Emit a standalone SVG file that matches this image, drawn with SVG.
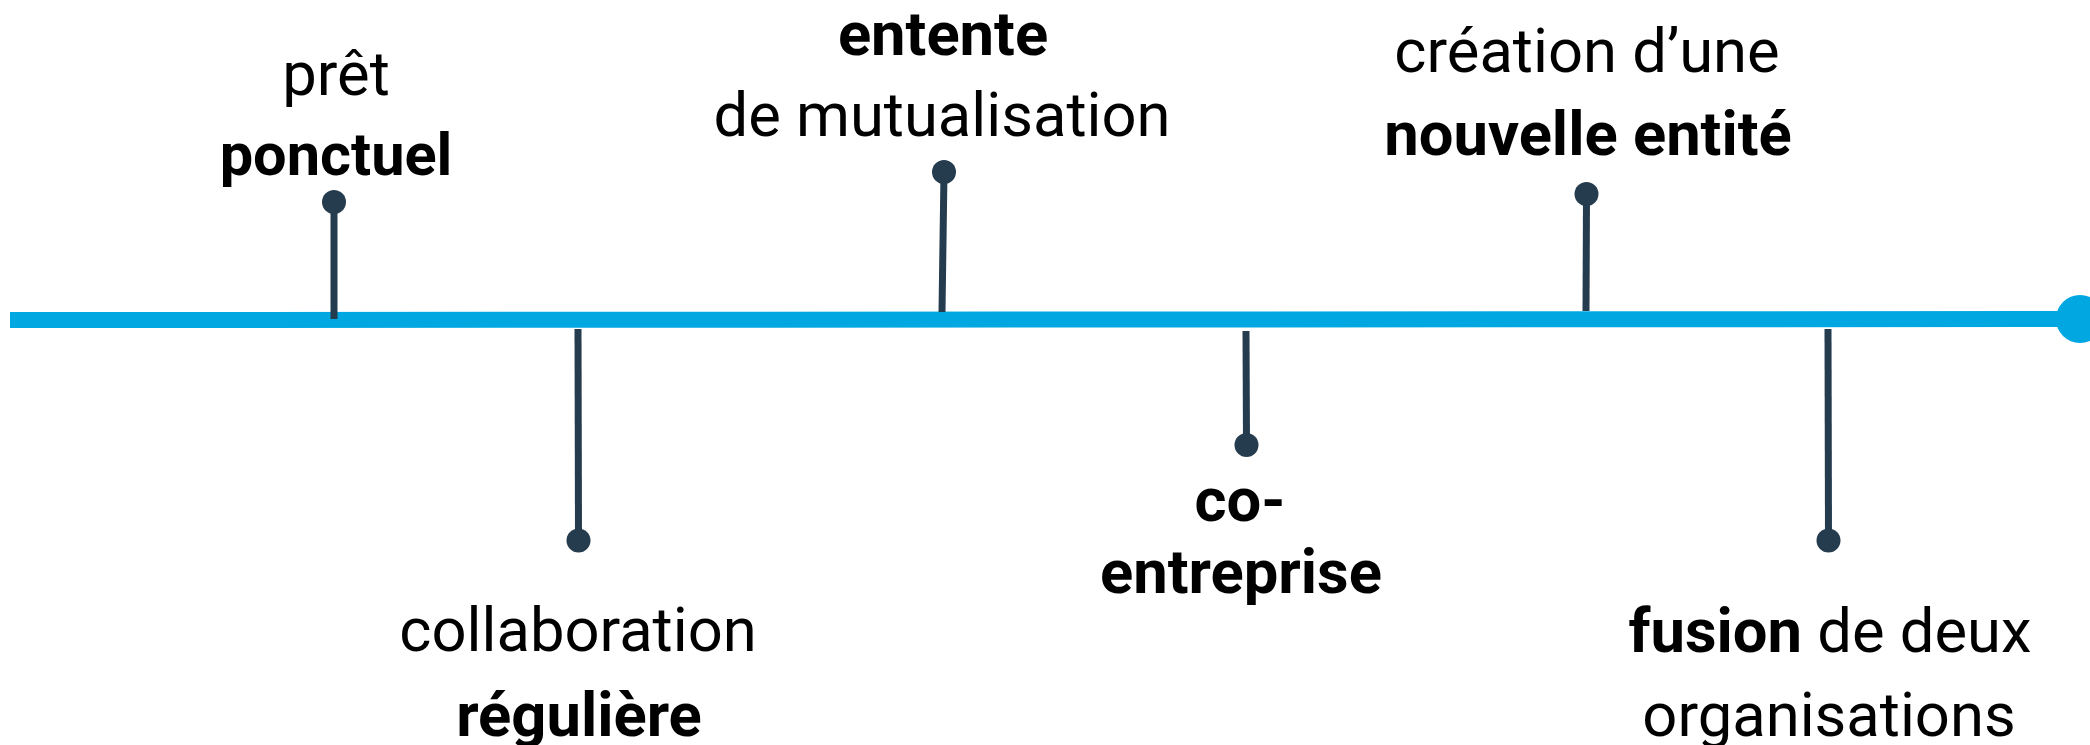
<svg xmlns="http://www.w3.org/2000/svg" width="2090" height="745" viewBox="0 0 2090 745">
<style>
.t{font-family:Roboto,"Liberation Sans",sans-serif;font-size:61.5px;fill:#000;text-anchor:middle}
.b{font-weight:bold}
.s{font-size:59.5px}
.stem{stroke:#253c4e;stroke-width:7;fill:none}
.dot{fill:#253c4e}
.axis{stroke:#00a7e1;stroke-width:16;fill:none}
</style>
<rect width="2090" height="745" fill="#fff"/>
<g id="axis">
<line class="axis" x1="10" y1="320" x2="2080" y2="319"/>
<circle cx="2080" cy="319" r="24" fill="#00a7e1"/>
</g>
<g id="connectors">
<line class="stem" x1="334" y1="319" x2="334" y2="202"/>
<line class="stem" x1="578" y1="329" x2="578.5" y2="540"/>
<line class="stem" x1="942" y1="312" x2="944" y2="172"/>
<line class="stem" x1="1246" y1="331" x2="1246.5" y2="445"/>
<line class="stem" x1="1586" y1="311" x2="1586.5" y2="194"/>
<line class="stem" x1="1828" y1="329" x2="1828.5" y2="540"/>
</g>
<g id="n1">
<circle class="dot" cx="334" cy="202" r="12"/>
<text class="t" x="336" y="95">prêt</text>
<text class="t b s" x="336" y="175">ponctuel</text>
</g>
<g id="n2">
<circle class="dot" cx="578.5" cy="540.5" r="12"/>
<text class="t" x="578" y="651">collaboration</text>
<text class="t b" x="579" y="736">régulière</text>
</g>
<g id="n3">
<circle class="dot" cx="944" cy="172" r="12"/>
<text class="t b" x="943" y="55">entente</text>
<text class="t" x="942" y="136">de mutualisation</text>
</g>
<g id="n4">
<circle class="dot" cx="1246.5" cy="445" r="12"/>
<text class="t b" x="1240" y="521">co-</text>
<text class="t b" x="1241" y="593">entreprise</text>
</g>
<g id="n5">
<circle class="dot" cx="1586.5" cy="194" r="12"/>
<text class="t" x="1587" y="72">création d’une</text>
<text class="t b" x="1588" y="155">nouvelle entité</text>
</g>
<g id="n6">
<circle class="dot" cx="1828.5" cy="540.5" r="12"/>
<text class="t" x="1830" y="652"><tspan class="b">fusion</tspan> de deux</text>
<text class="t" x="1829" y="736">organisations</text>
</g>
</svg>
